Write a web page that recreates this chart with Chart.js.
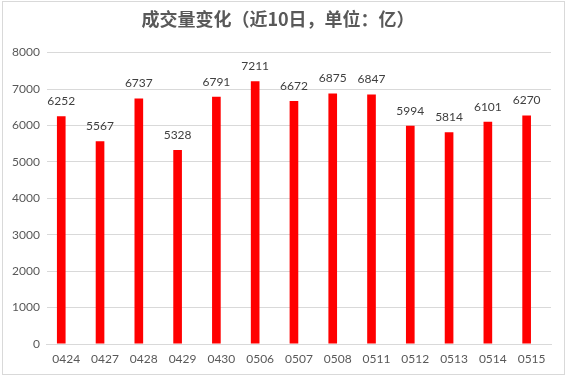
<!DOCTYPE html>
<html>
<head>
<meta charset="utf-8">
<script src="https://cdn.jsdelivr.net/npm/chart.js@4.4.0/dist/chart.umd.min.js"></script>
<style>
  html, body { margin: 0; padding: 0; background: #fff; }
  #box {
    position: absolute; left: 2px; top: 1px;
    width: 561px; height: 372px;
    border: 1px solid #d9d9d9;
    background: #fff;
  }
</style>
</head>
<body>
<div id="box"><canvas id="chart"></canvas></div>
<script>
// data
const dates = ["0424","0427","0428","0429","0430","0506","0507","0508","0511","0512","0513","0514","0515"];
const volumes = [6252,5567,6737,5328,6791,7211,6672,6875,6847,5994,5814,6101,6270];
// the source sheet has a second, empty series, which pushes the red bars left of centre
const emptySeries = [null,null,null,null,null,null,null,null,null,null,null,null,null];
const yTicks = { min: 0, max: 8000, step: 1000 };

// labels above each bar
const barLabels = {
  id: 'barLabels',
  afterDatasetsDraw(chart) {
    const ctx = chart.ctx;
    const meta = chart.getDatasetMeta(0);
    ctx.save();
    ctx.font = '12px Lato, "Liberation Sans", sans-serif';
    ctx.fillStyle = '#404040';
    ctx.textAlign = 'center';
    ctx.textBaseline = 'bottom';
    meta.data.forEach((bar, i) => {
      ctx.fillText(volumes[i], bar.x, bar.y - 9);
    });
    ctx.restore();
  }
};

new Chart(document.getElementById('chart'), {
  type: 'bar',
  data: {
    labels: dates,
    datasets: [{
      data: volumes,
      backgroundColor: '#ff0000',
      barPercentage: 0.87,
      categoryPercentage: 0.513
    }, {
      data: emptySeries,
      backgroundColor: '#ff0000',
      barPercentage: 0.87,
      categoryPercentage: 0.513
    }]
  },
  options: {
    responsive: true,
    maintainAspectRatio: false,
    animation: false,
    layout: { padding: { left: 2, right: 13, top: 2, bottom: 6 } },
    plugins: {
      legend: { display: false },
      tooltip: { enabled: false },
      title: {
        display: true,
        text: '成交量变化（近10日，单位：亿）',
        color: '#595959',
        font: { family: '"Noto Sans CJK SC", sans-serif', size: 18, weight: 'bold' },
        padding: { top: 4, bottom: 23 }
      }
    },
    scales: {
      x: {
        grid: { display: false, drawTicks: false },
        border: { display: true, color: '#d9d9d9' },
        ticks: { color: '#595959', font: { family: 'Lato, "Liberation Sans", sans-serif', size: 12 }, padding: 8 },
        afterFit: s => { s.height = 24; }
      },
      y: {
        min: yTicks.min,
        max: yTicks.max,
        grid: { color: '#d9d9d9', drawTicks: false },
        border: { display: false },
        ticks: {
          stepSize: yTicks.step,
          color: '#595959',
          font: { family: 'Lato, "Liberation Sans", sans-serif', size: 12 },
          padding: 7,
          callback: v => String(v)
        }
      }
    }
  },
  plugins: [barLabels]
});
</script>
</body>
</html>
